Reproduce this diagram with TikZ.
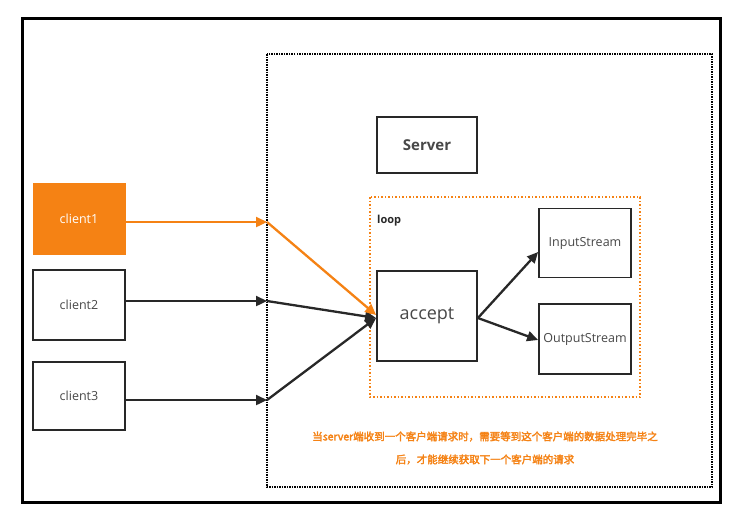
\documentclass[tikz,border=0pt]{standalone}
\usepackage{fontspec}
\setmainfont{Open Sans}
\newfontfamily\cjk[AutoFakeBold=2.5]{Noto Sans CJK SC}
\usetikzlibrary{arrows.meta,calc}
\definecolor{org}{RGB}{245,130,20}
\definecolor{dk}{RGB}{40,40,40}
\tikzset{
  box/.style={draw=dk, line width=1.8pt, rectangle, inner sep=0pt, text=dk!85, font=\fontsize{12.5}{14}\selectfont},
  conn/.style={draw=dk, line width=2.3pt},
  arr/.style={conn, -{Triangle[length=11pt,width=10pt]}},
}
\begin{document}
\begin{tikzpicture}[x=1pt,y=-1pt]
\useasboundingbox (0,0) rectangle (735,531);
\fill[white] (0,0) rectangle (735,531);
% outer frame
\draw[line width=3pt, black] (22,18) rectangle (720,502);
% server area
\draw[densely dotted, line width=1.5pt, black] (267,54) rectangle (712,487);
\node[box, minimum width=100pt, minimum height=56pt, font=\fontsize{15}{17}\selectfont\bfseries] (server) at (427,145) {Server};
% loop
\draw[dotted, line width=1.5pt, org] (370,197) rectangle (640,397);
\node[anchor=west, text=dk, font=\fontsize{11}{13}\selectfont\bfseries, inner sep=0pt] (loop) at (377,221) {loop};
\node[box, minimum width=100pt, minimum height=90pt, font=\fontsize{18}{20}\selectfont] (accept) at (427,316) {accept};
\node[box, minimum width=92pt, minimum height=69pt] (in) at (585,243) {InputStream};
\node[box, minimum width=92pt, minimum height=70pt] (out) at (585,339) {OutputStream};
% clients
\node[rectangle, fill=org, draw=org, minimum width=92pt, minimum height=71pt, text=white, font=\fontsize{12.5}{14}\selectfont, inner sep=0pt] (c1) at (79,219) {client1};
\node[box, minimum width=92pt, minimum height=70pt] (c2) at (79,305) {client2};
\node[box, minimum width=92pt, minimum height=68pt] (c3) at (79,396) {client3};
\coordinate (p1) at (267,222);
\coordinate (p2) at (267,301);
\coordinate (p3) at (267,400);
\draw[arr, draw=org, fill=org] (c1.east |- p1) -- (p1);
\draw[arr] (c2.east |- p2) -- (p2);
\draw[arr] (c3.east |- p3) -- (p3);
\draw[arr] (p2) -- ($(accept.west)+(0,2)$);
\draw[arr] (p3) -- ($(accept.west)+(0,2)$);
\draw[arr, draw=org, fill=org] (p1) -- ($(accept.west)+(0,-1)$);
\draw[arr] ($(accept.east)+(0,2)$) -- (in.west |- 0,252);
\draw[arr] ($(accept.east)+(0,2)$) -- (out.west |- 0,340);
% note
\node[align=center, text=org, font=\cjk\fontsize{10.5}{23}\selectfont\bfseries, inner sep=0pt] (note) at (485,448) {当server端收到一个客户端请求时，需要等到这个客户端的数据处理完毕之\\后，才能继续获取下一个客户端的请求};
\end{tikzpicture}
\end{document}
